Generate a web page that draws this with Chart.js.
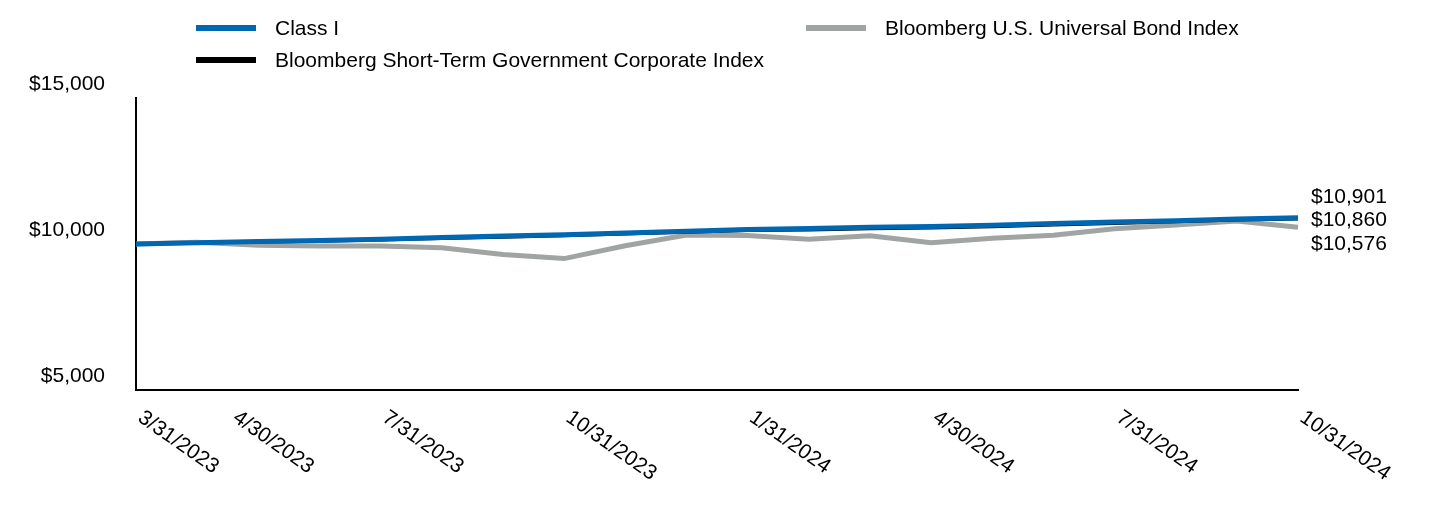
<!DOCTYPE html>
<html>
<head>
<meta charset="utf-8">
<script src="https://cdn.jsdelivr.net/npm/chart.js@4.4.1/dist/chart.umd.min.js"></script>
<style>
  html, body { margin: 0; padding: 0; background: #fff; }
  #wrap { position: relative; width: 1440px; height: 516px; }
  #chart { position: absolute; left: 0; top: 0; }
  #legend { position: absolute; left: 0; top: 0; width: 1440px; height: 80px;
            font-family: Arial, "Liberation Sans", sans-serif; font-size: 21px; color: #000; }
  .item { position: absolute; display: flex; align-items: center; height: 26px; white-space: nowrap; }
  .sw { width: 60px; height: 6px; margin-right: 19px; }
</style>
</head>
<body>
<div id="wrap">
  <canvas id="chart" width="1440" height="516"></canvas>
  <div id="legend"></div>
</div>
<script>
const categories = ['3/31/2023','4/30/2023','5/31/2023','6/30/2023','7/31/2023','8/31/2023','9/30/2023','10/31/2023','11/30/2023','12/31/2023','1/31/2024','2/29/2024','3/31/2024','4/30/2024','5/31/2024','6/30/2024','7/31/2024','8/31/2024','9/30/2024','10/31/2024'];
const tickLabels = ['3/31/2023','4/30/2023','7/31/2023','10/31/2023','1/31/2024','4/30/2024','7/31/2024','10/31/2024'];
const seriesNames = ['Class I', 'Bloomberg Short-Term Government Corporate Index', 'Bloomberg U.S. Universal Bond Index'];
const seriesColors = ['#0068b3', '#000000', '#a0a5a4'];
const classI    = [10000,10040,10085,10120,10160,10220,10270,10320,10380,10440,10500,10530,10570,10600,10640,10700,10750,10800,10860,10901];
const shortTerm = [10000,10030,10065,10095,10135,10185,10235,10280,10345,10405,10460,10480,10520,10550,10590,10650,10705,10760,10820,10860];
const universal = [10000,10060,9960,9930,9930,9870,9640,9500,9940,10310,10290,10160,10280,10040,10200,10300,10520,10650,10790,10576];
const yTicks = [5000, 10000, 15000];

const FONT = 'Arial, "Liberation Sans", sans-serif';
const fmt = v => '$' + v.toLocaleString('en-US');

// HTML legend: two columns, column-major
const legend = document.getElementById('legend');
const legendSlots = [[196, 15], [196, 47], [806, 15]];
seriesNames.forEach((name, i) => {
  const d = document.createElement('div');
  d.className = 'item';
  d.style.left = legendSlots[i][0] + 'px';
  d.style.top = legendSlots[i][1] + 'px';
  d.innerHTML = '<span class="sw" style="background:' + seriesColors[i] + '"></span><span>' + name + '</span>';
  legend.appendChild(d);
});

const labelsPlugin = {
  id: 'customLabels',
  afterDraw(chart) {
    const ctx = chart.ctx;
    const xs = chart.scales.x, ys = chart.scales.y;
    ctx.save();
    ctx.fillStyle = '#000';
    ctx.font = '21px ' + FONT;
    // rotated x-axis labels, text running down-right from the tick
    let prev = -Infinity;
    const minGap = 95;
    tickLabels.forEach(lbl => {
      const idx = categories.indexOf(lbl);
      let x = xs.getPixelForValue(idx) + 10;
      if (x < prev + minGap) x = prev + minGap;
      prev = x;
      ctx.save();
      ctx.translate(x, xs.top + 17);
      ctx.rotate(35 * Math.PI / 180);
      ctx.textAlign = 'left';
      ctx.textBaseline = 'top';
      ctx.fillText(lbl, 0, 0);
      ctx.restore();
    });
    // end-value labels on the right, spread to avoid overlap
    const ends = chart.data.datasets.map(ds => {
      const v = ds.data[ds.data.length - 1];
      return { v, y: ys.getPixelForValue(v) };
    }).sort((a, b) => a.y - b.y);
    const gap = 23.5;
    const mean = ends.reduce((s, e) => s + e.y, 0) / ends.length;
    ends.forEach((e, k) => { e.py = mean + (k - (ends.length - 1) / 2) * gap - 1; });
    ctx.textAlign = 'left';
    ctx.textBaseline = 'middle';
    ends.forEach(e => ctx.fillText(fmt(e.v), xs.right + 13, e.py));
    ctx.restore();
  }
};

new Chart(document.getElementById('chart'), {
  type: 'line',
  data: {
    labels: categories,
    datasets: [
      { label: seriesNames[0], data: classI, borderColor: seriesColors[0], borderWidth: 5, pointRadius: 0, tension: 0, order: 0 },
      { label: seriesNames[1], data: shortTerm, borderColor: seriesColors[1], borderWidth: 3, pointRadius: 0, tension: 0, order: 1 },
      { label: seriesNames[2], data: universal, borderColor: seriesColors[2], borderWidth: 5, pointRadius: 0, tension: 0, order: 2 }
    ]
  },
  options: {
    responsive: false,
    animation: false,
    events: [],
    layout: { padding: { top: 98, right: 142, left: 0, bottom: 0 } },
    plugins: { legend: { display: false }, tooltip: { enabled: false } },
    scales: {
      x: {
        offset: false,
        grid: { display: false, drawTicks: false },
        border: { display: true, color: '#000', width: 2 },
        ticks: { display: false },
        afterFit(s) { s.height = 126; }
      },
      y: {
        min: 5000, max: 15000,
        grid: { display: false, drawTicks: false },
        border: { display: true, color: '#000', width: 2 },
        afterBuildTicks(s) { s.ticks = yTicks.map(v => ({ value: v })); },
        ticks: {
          color: '#000',
          font: { family: FONT, size: 21 },
          padding: 31,
          labelOffset: -14,
          callback: v => fmt(v)
        },
        afterFit(s) { s.width = 136; }
      }
    }
  },
  plugins: [labelsPlugin]
});
</script>
</body>
</html>
